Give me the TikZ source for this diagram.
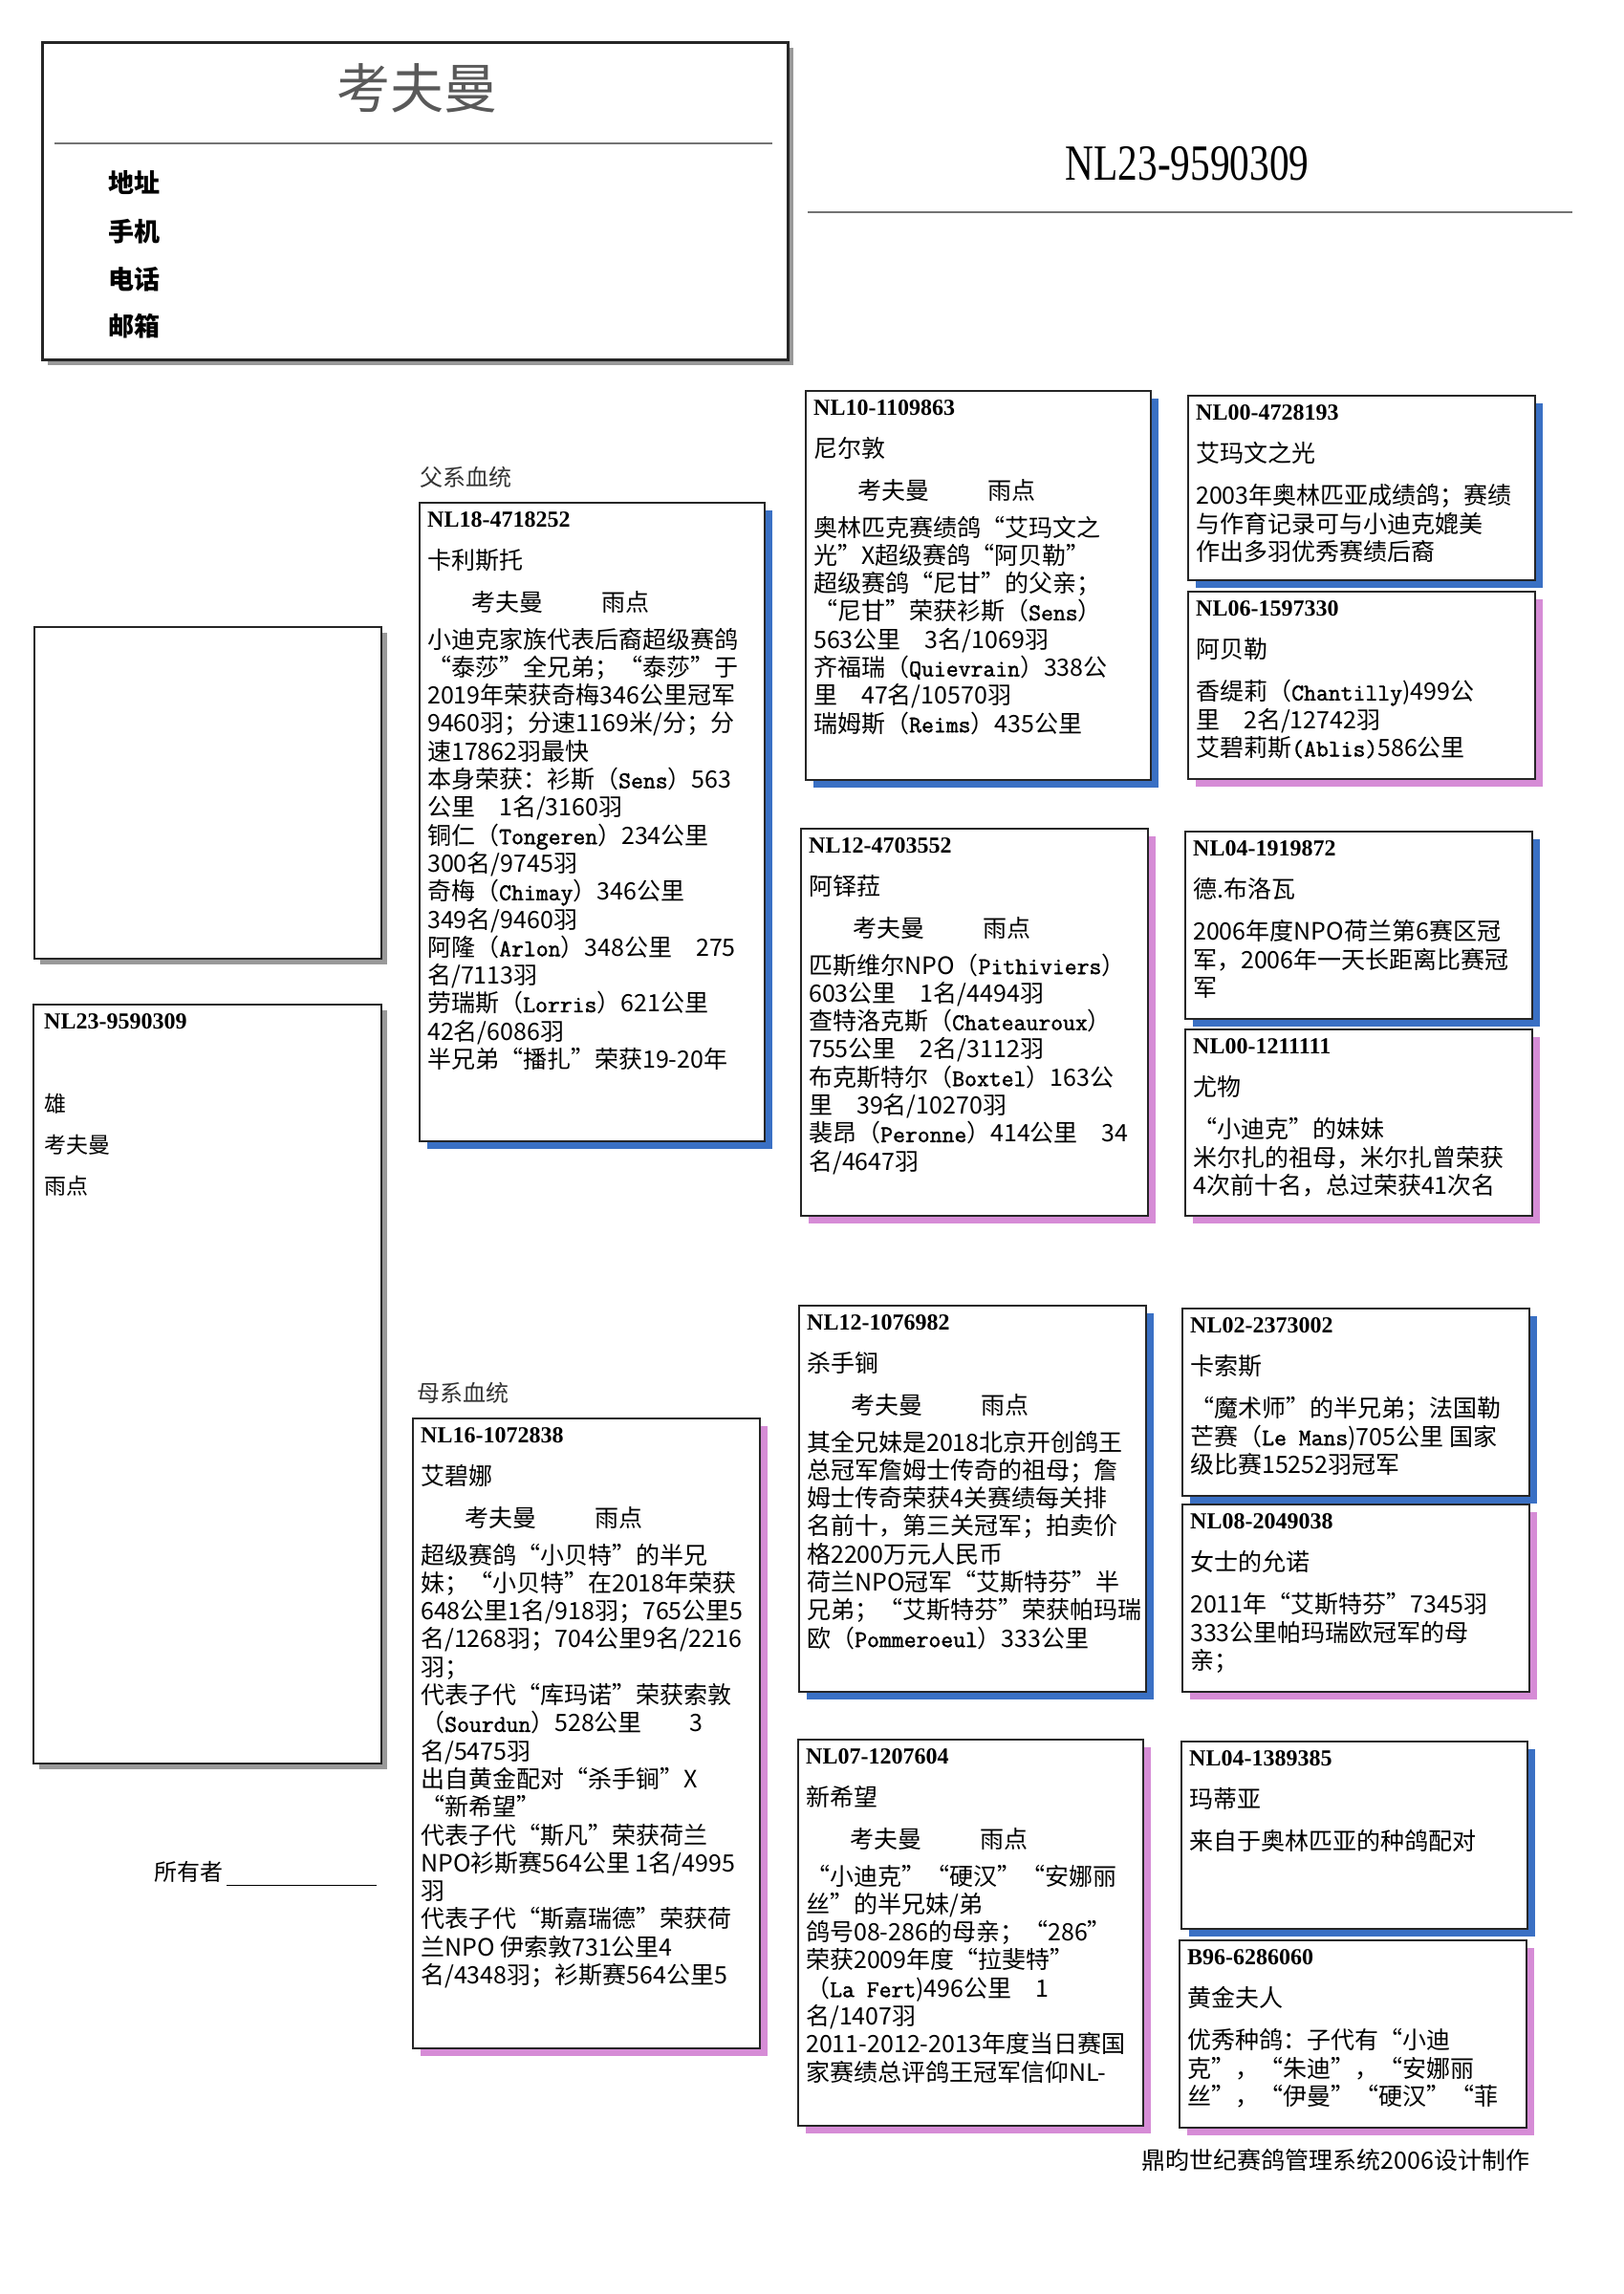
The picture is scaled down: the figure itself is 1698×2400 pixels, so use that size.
\documentclass[tikz,border=0pt]{standalone}
\usepackage{fontspec}
\setmainfont{Noto Sans CJK SC}
\newfontfamily\idfont{Liberation Serif}
\newfontfamily\bigidfont[FakeStretch=0.78]{Liberation Serif}
\newfontfamily\plfont[FakeBold=1.5]{Latin Modern Mono}
\usetikzlibrary{shadows}
\definecolor{shadowblue}{RGB}{58,112,196}
\definecolor{shadowpink}{RGB}{214,140,214}
\newcommand{\place}[1]{{\plfont #1}}
\newcommand{\ringno}[1]{{\idfont\bfseries\fontsize{24}{29.3}\selectfont #1}}
\newcommand{\cardtop}[2]{\ringno{#1}\\[15pt]#2\\[15pt]}
\newcommand{\ownerline}{\hspace*{46pt}考夫曼\hspace{61pt}雨点\\[9pt]}
\newcommand{\pedcard}[6]{%
  \node[cardframe, minimum width=#3pt, minimum height=#4pt, #5] (#1) at (#2) {};
  \node[cardtext] (#1t) at ([shift={(9,10)}]#1.north west) {#6};}
\tikzset{
  cardframe/.style={draw=black!85, line width=2.2pt, fill=white, anchor=north west, inner sep=0pt},
  cardtext/.style={anchor=north west, inner sep=0pt, align=left, font=\fontsize{25}{29.3}\selectfont},
  sireshadow/.style={drop shadow={shadow xshift=8pt, shadow yshift=-8pt, fill=shadowblue, opacity=1}},
  damshadow/.style={drop shadow={shadow xshift=8pt, shadow yshift=-8pt, fill=shadowpink, opacity=1}},
  plainshadow/.style={drop shadow={shadow xshift=6pt, shadow yshift=-6pt, fill=black!40, opacity=1}},
}
\begin{document}
\begin{tikzpicture}[x=1pt,y=-1pt]
\useasboundingbox (0,0) rectangle (1698,2400);
% owner header
\node[cardframe, minimum width=780pt, minimum height=332pt, line width=2.6pt, plainshadow] (H) at (43,43) {};
\node[font=\fontsize{56}{60}\selectfont, text=black!65] (T) at (436,92) {考夫曼};
\draw[black!55, line width=2pt] (57,150) -- (808,150);
\foreach \lab/\y in {地址/191,手机/242,电话/292,邮箱/341}
  \node[anchor=west, font=\fontsize{27}{30}\selectfont\bfseries] (L\y) at (110,\y) {\lab};
\node[font=\bigidfont\fontsize{53}{60}\selectfont] (R) at (1242,171) {NL23-9590309};
\draw[black!55, line width=2pt] (845,222) -- (1645,222);
% photo and bird
\node[cardframe, minimum width=363pt, minimum height=347pt, plainshadow] (P) at (35,655) {};
\node[cardframe, minimum width=364pt, minimum height=794pt, plainshadow] (B) at (34,1050) {};
\node[anchor=north west, align=left, inner sep=0pt, font=\fontsize{23}{43}\selectfont] (Bt)
  at ([shift={(12,10)}]B.north west) {\ringno{NL23-9590309}\\[44pt]雄\\考夫曼\\雨点};
\node[anchor=west, font=\fontsize{24}{28}\selectfont] (O) at (158,1958) {所有者};
\draw[line width=1pt] (O.south east) -- ++(157,0);
\node[anchor=west, font=\fontsize{24}{28}\selectfont, text=black!80] (SL) at (436,499) {父系血统};
\node[anchor=west, font=\fontsize{24}{28}\selectfont, text=black!80] (DL) at (433,1457) {母系血统};
% parents
\pedcard{S}{438,525}{361}{668}{sireshadow}{\cardtop{NL18-4718252}{卡利斯托}\ownerline
小迪克家族代表后裔超级赛鸽\\
“泰莎”全兄弟；“泰莎”于\\
2019年荣获奇梅346公里冠军\\
9460羽；分速1169米/分；分\\
速17862羽最快\\
本身荣获：衫斯（\place{Sens}）563\\
公里　1名/3160羽\\
铜仁（\place{Tongeren}）234公里\\
300名/9745羽\\
奇梅（\place{Chimay}）346公里\\
349名/9460羽\\
阿隆（\place{Arlon}）348公里　275\\
名/7113羽\\
劳瑞斯（\place{Lorris}）621公里\\
42名/6086羽\\
半兄弟“播扎”荣获19-20年}
\pedcard{D}{431,1483}{363}{659}{damshadow}{\cardtop{NL16-1072838}{艾碧娜}\ownerline
超级赛鸽“小贝特”的半兄\\
妹；“小贝特”在2018年荣获\\
648公里1名/918羽；765公里5\\
名/1268羽；704公里9名/2216\\
羽；\\
代表子代“库玛诺”荣获索敦\\
（\place{Sourdun}）528公里　　3\\
名/5475羽\\
出自黄金配对“杀手锏”X\\
“新希望”\\
代表子代“斯凡”荣获荷兰\\
NPO衫斯赛564公里~1名/4995\\
羽\\
代表子代“斯嘉瑞德”荣获荷\\
兰NPO~伊索敦731公里4\\
名/4348羽；衫斯赛564公里5}
% grandparents
\pedcard{SS}{842,408}{361}{407}{sireshadow}{\cardtop{NL10-1109863}{尼尔敦}\ownerline
奥林匹克赛绩鸽“艾玛文之\\
光”X超级赛鸽“阿贝勒”\\
超级赛鸽“尼甘”的父亲；\\
“尼甘”荣获衫斯（\place{Sens}）\\
563公里　3名/1069羽\\
齐福瑞（\place{Quievrain}）338公\\
里　47名/10570羽\\
瑞姆斯（\place{Reims}）435公里}
\pedcard{SD}{837,866}{363}{405}{damshadow}{\cardtop{NL12-4703552}{阿铎菈}\ownerline
匹斯维尔NPO（\place{Pithiviers}）\\
603公里　1名/4494羽\\
查特洛克斯（\place{Chateauroux}）\\
755公里　2名/3112羽\\
布克斯特尔（\place{Boxtel}）163公\\
里　39名/10270羽\\
裴昂（\place{Peronne}）414公里　34\\
名/4647羽}
\pedcard{DS}{835,1365}{363}{404}{sireshadow}{\cardtop{NL12-1076982}{杀手锏}\ownerline
其全兄妹是2018北京开创鸽王\\
总冠军詹姆士传奇的祖母；詹\\
姆士传奇荣获4关赛绩每关排\\
名前十，第三关冠军；拍卖价\\
格2200万元人民币\\
荷兰NPO冠军“艾斯特芬”半\\
兄弟；“艾斯特芬”荣获帕玛瑞\\
欧（\place{Pommeroeul}）333公里}
\pedcard{DD}{834,1819}{361}{404}{damshadow}{\cardtop{NL07-1207604}{新希望}\ownerline
“小迪克”“硬汉”“安娜丽\\
丝”的半兄妹/弟\\
鸽号08-286的母亲；“286”\\
荣获2009年度“拉斐特”\\
（\place{La~Fert})496公里　1\\
名/1407羽\\
2011-2012-2013年度当日赛国\\
家赛绩总评鸽王冠军信仰NL-}
% great-grandparents
\pedcard{SSS}{1242,413}{363}{193}{sireshadow}{\cardtop{NL00-4728193}{艾玛文之光}
2003年奥林匹亚成绩鸽；赛绩\\
与作育记录可与小迪克媲美\\
作出多羽优秀赛绩后裔}
\pedcard{SSD}{1242,618}{363}{196}{damshadow}{\cardtop{NL06-1597330}{阿贝勒}
香缇莉（\place{Chantilly})499公\\
里　2名/12742羽\\
艾碧莉斯\place{(Ablis)}586公里}
\pedcard{SDS}{1239,869}{363}{196}{sireshadow}{\cardtop{NL04-1919872}{德.布洛瓦}
2006年度NPO荷兰第6赛区冠\\
军，2006年一天长距离比赛冠\\
军}
\pedcard{SDD}{1239,1076}{363}{195}{damshadow}{\cardtop{NL00-1211111}{尤物}
“小迪克”的妹妹\\
米尔扎的祖母，米尔扎曾荣获\\
4次前十名，总过荣获41次名}
\pedcard{DSS}{1236,1368}{363}{196}{sireshadow}{\cardtop{NL02-2373002}{卡索斯}
“魔术师”的半兄弟；法国勒\\
芒赛（\place{Le~Mans})705公里~国家\\
级比赛15252羽冠军}
\pedcard{DSD}{1236,1573}{363}{196}{damshadow}{\cardtop{NL08-2049038}{女士的允诺}
2011年“艾斯特芬”7345羽\\
333公里帕玛瑞欧冠军的母\\
亲；}
\pedcard{DDS}{1235,1821}{362}{196}{sireshadow}{\cardtop{NL04-1389385}{玛蒂亚}
来自于奥林匹亚的种鸽配对}
\pedcard{DDD}{1233,2029}{363}{196}{damshadow}{\cardtop{B96-6286060}{黄金夫人}
优秀种鸽：子代有“小迪\\
克”，“朱迪”，“安娜丽\\
丝”，“伊曼”“硬汉”“菲}
\node[anchor=east, font=\fontsize{25}{28}\selectfont] (F) at (1604,2260) {鼎昀世纪赛鸽管理系统2006设计制作};
\end{tikzpicture}
\end{document}
